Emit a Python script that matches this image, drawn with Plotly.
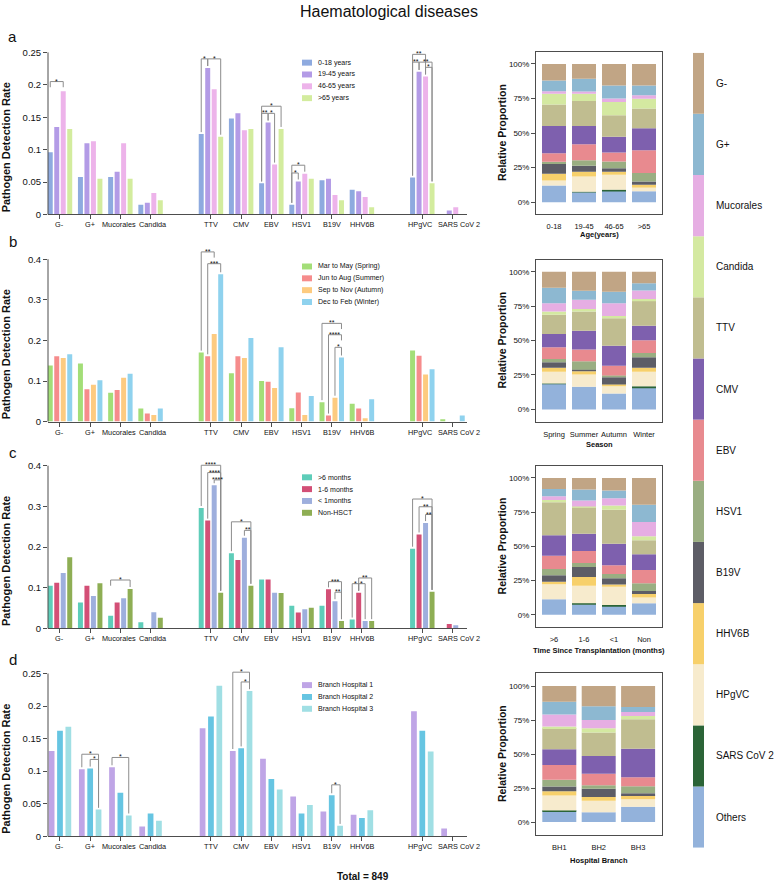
import plotly.graph_objects as go

W, H = 778, 888
FONT = "Liberation Sans, Arial, Helvetica, sans-serif"

# ---------------------------------------------------------------- data
categories = ["G-", "G+", "Mucorales", "Candida", "TTV", "CMV", "EBV", "HSV1",
              "B19V", "HHV6B", "HPgVC", "SARS CoV 2"]

# panel a : age
age_names = ["0-18 years", "19-45 years", "46-65 years", ">65 years"]
age_0_18 = [0.096, 0.058, 0.058, 0.015, 0.124, 0.148, 0.048, 0.015, 0.053, 0.038, 0.057, 0.000]
age_19_45 = [0.135, 0.110, 0.066, 0.018, 0.226, 0.156, 0.142, 0.051, 0.055, 0.036, 0.220, 0.006]
age_46_65 = [0.190, 0.113, 0.110, 0.033, 0.193, 0.130, 0.077, 0.063, 0.030, 0.027, 0.213, 0.011]
age_over65 = [0.132, 0.055, 0.055, 0.022, 0.120, 0.132, 0.132, 0.055, 0.022, 0.011, 0.048, 0.000]

# panel b : season
season_names = ["Mar to May (Spring)", "Jun to Aug (Summer)", "Sep to Nov (Autumn)", "Dec to Feb (Winter)"]
season_spring = [0.138, 0.143, 0.071, 0.032, 0.170, 0.119, 0.100, 0.033, 0.048, 0.044, 0.175, 0.006]
season_summer = [0.161, 0.080, 0.078, 0.020, 0.161, 0.161, 0.098, 0.072, 0.015, 0.032, 0.162, 0.000]
season_autumn = [0.157, 0.091, 0.108, 0.016, 0.216, 0.157, 0.083, 0.016, 0.059, 0.008, 0.116, 0.000]
season_winter = [0.166, 0.102, 0.118, 0.032, 0.363, 0.206, 0.183, 0.063, 0.158, 0.055, 0.129, 0.015]

# panel c : time since transplantation
hsct_names = [">6 months", "1-6 months", "< 1months", "Non-HSCT"]
hsct_gt6 = [0.105, 0.064, 0.031, 0.015, 0.296, 0.185, 0.120, 0.056, 0.056, 0.022, 0.196, 0.000]
hsct_1_6 = [0.112, 0.105, 0.064, 0.000, 0.265, 0.168, 0.120, 0.039, 0.096, 0.088, 0.231, 0.011]
hsct_lt1 = [0.136, 0.080, 0.074, 0.040, 0.352, 0.223, 0.088, 0.047, 0.067, 0.018, 0.259, 0.008]
hsct_non = [0.175, 0.111, 0.097, 0.026, 0.088, 0.105, 0.087, 0.051, 0.018, 0.018, 0.090, 0.000]

# panel d : hospital branch
branch_names = ["Branch Hospital 1", "Branch Hospital 2", "Branch Hospital 3"]
branch_1 = [0.131, 0.103, 0.106, 0.015, 0.166, 0.131, 0.119, 0.061, 0.038, 0.033, 0.192, 0.012]
branch_2 = [0.162, 0.104, 0.067, 0.035, 0.184, 0.135, 0.088, 0.035, 0.063, 0.028, 0.162, 0.000]
branch_3 = [0.168, 0.041, 0.032, 0.024, 0.231, 0.223, 0.072, 0.048, 0.016, 0.040, 0.130, 0.000]

# significance brackets: (category, bar i, bar j, level, label, left leg, right leg)
# leg "L" = down to the bar top, "S" = short tick
brackets_a = [
    ("G-", 0, 2, 0.205, "*", "S", "S"),
    ("TTV", 0, 1, 0.240, "*", "L", "L"),
    ("TTV", 1, 3, 0.240, "*", "L", "L"),
    ("EBV", 0, 3, 0.167, "*", "L", "L"),
    ("EBV", 0, 1, 0.156, "**", "L", "L"),
    ("EBV", 1, 2, 0.156, "*", "L", "L"),
    ("HSV1", 0, 2, 0.076, "*", "L", "L"),
    ("HSV1", 0, 1, 0.064, "*", "L", "L"),
    ("HPgVC", 0, 2, 0.247, "**", "L", "L"),
    ("HPgVC", 0, 1, 0.235, "**", "L", "L"),
    ("HPgVC", 1, 3, 0.235, "**", "L", "L"),
    ("HPgVC", 2, 3, 0.227, "*", "L", "L"),
]
brackets_b = [
    ("TTV", 0, 2, 0.418, "**", "L", "S"),
    ("TTV", 1, 3, 0.389, "***", "L", "L"),
    ("B19V", 0, 3, 0.242, "**", "L", "S"),
    ("B19V", 1, 3, 0.214, "****", "L", "S"),
    ("B19V", 2, 3, 0.183, "*", "L", "L"),
]
brackets_c = [
    ("Mucorales", 0, 3, 0.119, "*", "S", "L"),
    ("TTV", 0, 3, 0.401, "****", "L", "L"),
    ("TTV", 1, 3, 0.383, "****", "L", "L"),
    ("TTV", 2, 3, 0.365, "****", "L", "L"),
    ("CMV", 0, 3, 0.262, "*", "L", "L"),
    ("CMV", 2, 3, 0.241, "**", "L", "L"),
    ("B19V", 1, 3, 0.115, "***", "L", "L"),
    ("B19V", 2, 3, 0.089, "**", "L", "L"),
    ("HHV6B", 0, 1, 0.110, "*", "L", "L"),
    ("HHV6B", 1, 2, 0.110, "*", "L", "L"),
    ("HHV6B", 1, 3, 0.124, "**", "L", "L"),
    ("HPgVC", 0, 3, 0.318, "*", "L", "L"),
    ("HPgVC", 1, 3, 0.299, "**", "L", "L"),
    ("HPgVC", 2, 3, 0.280, "**", "L", "L"),
]
brackets_d = [
    ("G+", 0, 2, 0.126, "*", "L", "L"),
    ("G+", 1, 2, 0.118, "*", "L", "L"),
    ("Mucorales", 0, 2, 0.121, "*", "L", "L"),
    ("CMV", 0, 2, 0.252, "*", "L", "L"),
    ("CMV", 1, 2, 0.237, "*", "L", "L"),
    ("B19V", 1, 2, 0.079, "*", "L", "L"),
]

# relative proportions (%), order = pathogens (top of stack first)
pathogens = ["G-", "G+", "Mucorales", "Candida", "TTV", "CMV", "EBV", "HSV1",
             "B19V", "HHV6B", "HPgVC", "SARS CoV 2", "Others"]

age_labels = ["0-18", "19-45", "46-65", ">65"]
prop_0_18 = [12.0, 7.7, 1.9, 7.7, 15.6, 19.7, 6.2, 1.7, 7.0, 5.0, 3.6, 0.0, 12.0]
prop_19_45 = [10.8, 9.1, 1.7, 5.3, 18.0, 13.2, 11.5, 4.1, 4.3, 3.4, 11.0, 0.4, 7.2]
prop_46_65 = [15.6, 9.4, 2.6, 9.6, 15.6, 11.3, 6.5, 5.0, 2.4, 2.2, 11.0, 0.5, 8.4]
prop_over65 = [15.6, 7.0, 2.6, 7.0, 14.4, 15.8, 16.5, 6.2, 2.4, 1.2, 3.4, 0.0, 7.9]

season_labels = ["Spring", "Summer", "Autumn", "Winter"]
prop_spring = [11.6, 11.3, 6.0, 2.4, 14.0, 9.6, 8.4, 2.4, 4.1, 2.9, 8.4, 0.3, 18.6]
prop_summer = [13.7, 6.7, 6.7, 1.7, 14.0, 13.7, 8.4, 6.3, 1.0, 2.4, 8.9, 0.0, 16.4]
prop_autumn = [14.5, 8.4, 9.2, 1.7, 20.0, 14.5, 7.2, 1.2, 5.3, 1.2, 5.3, 0.0, 11.6]
prop_winter = [8.4, 5.3, 6.0, 1.4, 18.1, 10.6, 9.2, 3.1, 7.7, 2.9, 10.4, 1.2, 15.7]

hsct_labels = [">6", "1-6", "<1", "Non"]
prop_gt6 = [8.0, 5.3, 2.7, 1.7, 24.2, 15.0, 9.7, 4.4, 4.8, 1.9, 10.9, 0.0, 11.4]
prop_1_6 = [8.5, 8.0, 4.4, 0.5, 19.4, 12.6, 8.7, 2.9, 7.3, 6.5, 12.8, 0.7, 7.7]
prop_lt1 = [9.2, 5.6, 5.3, 3.1, 24.7, 15.7, 6.5, 3.1, 4.4, 1.7, 13.3, 0.7, 6.5]
prop_non = [19.6, 12.6, 10.4, 2.9, 10.2, 11.6, 9.7, 5.6, 2.2, 2.7, 4.1, 0.0, 8.5]

branch_labels = ["BH1", "BH2", "BH3"]
prop_bh1 = [11.5, 9.3, 9.0, 1.2, 15.4, 11.7, 10.7, 5.1, 3.4, 3.2, 11.0, 0.7, 7.8]
prop_bh2 = [14.9, 10.1, 6.0, 3.1, 17.3, 13.2, 8.4, 2.6, 6.0, 2.9, 8.4, 0.0, 7.2]
prop_bh3 = [15.3, 3.8, 2.9, 2.4, 21.6, 21.1, 6.5, 5.3, 1.2, 3.1, 5.5, 0.0, 11.3]

total_n = 849

# ---------------------------------------------------------------- styles
age_colors = ["#8EAADF", "#B39BE6", "#EDB3EA", "#D3EC9E"]
season_colors = ["#A3DE78", "#F68C8C", "#FDCB80", "#8FD2EE"]
hsct_colors = ["#5ECDB9", "#D34F76", "#9EAFDD", "#8EAE54"]
branch_colors = ["#BFA5E6", "#66C5E2", "#A0DFE4"]
pathogen_colors = ["#C1A585", "#8DB8D1", "#E6AEE3", "#D4E9A1", "#C0BD90", "#7E60AE",
                   "#E88A8F", "#9AAE82", "#5D5D66", "#F7D06B", "#F7EBCD", "#2B6437", "#93B2DB"]
AX = "#4d4d4d"
BR = "#8c8c8c"
CAT_SHIFT = {"SARS CoV 2": 6, "HPgVC": -2, "Mucorales": -1, "Candida": 2}


def fx(px):
    return px / W


def fy(py):
    return 1 - py / H


def names(k):
    s = "" if k == 1 else str(k)
    return "x" + s, "y" + s, "xaxis" + s, "yaxis" + s


# category positions with a one-slot gap between the three pathogen groups
cat_pos = []
p = 0
for gsize in [4, 6, 2]:
    for _ in range(gsize):
        cat_pos.append(p)
        p += 1
    p += 1

fig = go.Figure()
layout = {}
shapes = []
annotations = []


def txt(x, y, text, size, xanchor="center", yanchor="middle", angle=0, color="#111"):
    annotations.append(dict(x=x, y=y, xref="paper", yref="paper", text=text, showarrow=False,
                            xanchor=xanchor, yanchor=yanchor, textangle=angle,
                            font=dict(size=size, color=color, family=FONT)))


main_panels = [
    dict(names=age_names, series=[age_0_18, age_19_45, age_46_65, age_over65], colors=age_colors,
         brackets=brackets_a, T=0.25, dt=0.05, zero=215.7, top=52.7, letter="a", letter_y=37, leg_y=63),
    dict(names=season_names, series=[season_spring, season_summer, season_autumn, season_winter],
         colors=season_colors, brackets=brackets_b, T=0.4, dt=0.1, zero=424, top=260.7,
         letter="b", letter_y=243, leg_y=268),
    dict(names=hsct_names, series=[hsct_gt6, hsct_1_6, hsct_lt1, hsct_non], colors=hsct_colors,
         brackets=brackets_c, T=0.4, dt=0.1, zero=632, top=468.3, letter="c", letter_y=455, leg_y=480),
    dict(names=branch_names, series=[branch_1, branch_2, branch_3], colors=branch_colors,
         brackets=brackets_d, T=0.25, dt=0.05, zero=841, top=677.3, letter="d", letter_y=663, leg_y=689),
]

k = 0
for pnl in main_panels:
    k += 1
    xa, ya, xk, yk = names(k)
    n = len(pnl["series"])
    step, bw = (0.215, 0.165) if n == 4 else (0.277, 0.19)
    first = -(n * step - (step - bw)) / 2
    T = pnl["T"]
    R = T * 1.08
    for i, (vals, nm, col) in enumerate(zip(pnl["series"], pnl["names"], pnl["colors"])):
        fig.add_trace(go.Bar(x=cat_pos, y=vals, name=nm, width=bw, offset=first + i * step,
                             marker=dict(color=col, line=dict(width=0)), xaxis=xa, yaxis=ya,
                             customdata=categories,
                             hovertemplate="%{customdata}<br>" + nm + ": %{y}<extra></extra>"))
    dom_top = pnl["zero"] - (pnl["zero"] - pnl["top"]) * R / T
    nt = int(round(T / pnl["dt"]))
    tv = [round(j * pnl["dt"], 3) for j in range(nt + 1)]
    layout[xk] = dict(domain=[fx(48), fx(467)], range=[-0.397, 13.48], anchor=ya,
                      tickmode="array", tickvals=cat_pos, showticklabels=False,
                      ticks="outside", ticklen=4, tickcolor=AX, tickwidth=1,
                      showline=True, linecolor=AX, linewidth=1, showgrid=False, zeroline=False,
                      fixedrange=True)
    layout[yk] = dict(domain=[fy(pnl["zero"]), fy(dom_top)], range=[0, R], anchor=xa,
                      tickmode="array", tickvals=tv, ticktext=[f"{v:g}" for v in tv],
                      ticks="outside", ticklen=4, tickcolor=AX, tickwidth=1,
                      showline=False, showgrid=False, zeroline=False,
                      tickfont=dict(size=9.5, color="#111"), fixedrange=True)
    # category labels under the ticks
    for cat, cp in zip(categories, cat_pos):
        annotations.append(dict(x=cp, y=0, xref=xa, yref=ya, text=cat, showarrow=False,
                                xanchor="center", yanchor="top", yshift=-5,
                                xshift=CAT_SHIFT.get(cat, 0), borderpad=0,
                                font=dict(size=7.3, color="#111", family=FONT)))
    # y-axis line ending at the top tick
    shapes.append(dict(type="line", xref=xa + " domain", yref=ya + " domain", x0=0, x1=0,
                       y0=0, y1=T / R, line=dict(color=AX, width=1)))
    # significance brackets
    pad, short = 0.012 * T, 0.035 * T
    for (cat, i, j, lev, lab, lm, rm) in pnl["brackets"]:
        ci = categories.index(cat)
        xi = cat_pos[ci] + first + i * step + bw / 2
        xj = cat_pos[ci] + first + j * step + bw / 2
        yi = pnl["series"][i][ci] + pad if lm == "L" else lev - short
        yj = pnl["series"][j][ci] + pad if rm == "L" else lev - short
        shapes.append(dict(type="path", xref=xa, yref=ya,
                           path=f"M{xi},{yi} L{xi},{lev} L{xj},{lev} L{xj},{yj}",
                           line=dict(color=BR, width=1)))
        annotations.append(dict(x=(xi + xj) / 2, y=lev, xref=xa, yref=ya, text=lab, showarrow=False,
                                yanchor="bottom", yshift=-4, borderpad=0,
                                font=dict(size=7, color="#111", family=FONT)))
    # legend (manual, compact)
    for i, (nm, col) in enumerate(zip(pnl["names"], pnl["colors"])):
        yc = pnl["leg_y"] + i * 11.9
        shapes.append(dict(type="rect", xref="paper", yref="paper", x0=fx(302), x1=fx(312),
                           y0=fy(yc + 3), y1=fy(yc - 3), fillcolor=col, line=dict(width=0)))
        txt(fx(316), fy(yc), nm, 7, xanchor="left")
    # panel letter, y title
    txt(fx(13), fy(pnl["letter_y"]), pnl["letter"], 15)
    txt(fx(6), fy((pnl["zero"] + pnl["top"]) / 2 + 14), "<b>Pathogen Detection Rate</b>", 11, angle=-90)

stacked_panels = [
    dict(labels=age_labels, props=[prop_0_18, prop_19_45, prop_46_65, prop_over65],
         title="Age(years)", box=(52.7, 215), p100=64.3, p0=203.3, title_y=236),
    dict(labels=season_labels, props=[prop_spring, prop_summer, prop_autumn, prop_winter],
         title="Season", box=(261.7, 424), p100=273.3, p0=411.7, title_y=447),
    dict(labels=hsct_labels, props=[prop_gt6, prop_1_6, prop_lt1, prop_non],
         title="Time Since Transplantation (months)", box=(468.3, 631), p100=480.7, p0=618.3, title_y=654),
    dict(labels=branch_labels, props=[prop_bh1, prop_bh2, prop_bh3],
         title="Hospital Branch", box=(676.7, 840), p100=690, p0=826.7, title_y=865),
]

for sp in stacked_panels:
    k += 1
    xa, ya, xk, yk = names(k)
    n = len(sp["labels"])
    c0, spc, bwpx = (554, 30, 24) if n == 4 else (559.3, 39.4, 34)
    xs = list(range(n))
    totals = [sum(g) for g in sp["props"]]
    base = [0.0] * n
    for j in reversed(range(len(pathogens))):
        vals = [sp["props"][g][j] / totals[g] for g in range(n)]
        fig.add_trace(go.Bar(x=xs, y=vals, base=list(base), width=bwpx / spc, name=pathogens[j],
                             marker=dict(color=pathogen_colors[j], line=dict(width=0)),
                             xaxis=xa, yaxis=ya,
                             hovertemplate=pathogens[j] + ": %{y:.1%}<extra></extra>"))
        base = [b + v for b, v in zip(base, vals)]
    top, bot = sp["box"]
    span = sp["p0"] - sp["p100"]
    r0 = -(bot - sp["p0"]) / span
    r1 = 1 + (sp["p100"] - top) / span
    layout[xk] = dict(domain=[fx(536), fx(661.7)], range=[(536 - c0) / spc, (661.7 - c0) / spc],
                      anchor=ya, tickmode="array", tickvals=xs, ticktext=sp["labels"], ticks="",
                      tickangle=0, ticklabelstandoff=5, showline=True, mirror=True, linecolor=AX,
                      linewidth=1, showgrid=False, zeroline=False,
                      tickfont=dict(size=7.5, color="#111"), fixedrange=True)
    layout[yk] = dict(domain=[fy(bot), fy(top)], range=[r0, r1], anchor=xa, tickmode="array",
                      tickvals=[0, 0.25, 0.5, 0.75, 1], ticktext=["0%", "25%", "50%", "75%", "100%"],
                      ticks="outside", ticklen=4, tickcolor=AX, showline=True, mirror=True,
                      linecolor=AX, linewidth=1, showgrid=False, zeroline=False,
                      tickfont=dict(size=8, color="#111"), fixedrange=True)
    txt(fx(502), fy((sp["p100"] + sp["p0"]) / 2), "<b>Relative Proportion</b>", 10.5, angle=-90)
    txt(fx(599), fy(sp["title_y"]), "<b>" + sp["title"] + "</b>", 7.5)

# colour key strip on the right
k += 1
xa, ya, xk, yk = names(k)
npth = len(pathogens)
for j in reversed(range(npth)):
    fig.add_trace(go.Bar(x=[0], y=[1], base=[npth - 1 - j], width=1, name=pathogens[j],
                         marker=dict(color=pathogen_colors[j], line=dict(width=0)),
                         xaxis=xa, yaxis=ya, hovertemplate=pathogens[j] + "<extra></extra>"))
layout[xk] = dict(domain=[fx(693), fx(704)], range=[-0.5, 0.5], anchor=ya, visible=False,
                  fixedrange=True)
layout[yk] = dict(domain=[fy(852.5), fy(53)], range=[0, npth], anchor=xa, side="right",
                  tickmode="array", tickvals=[npth - 0.5 - j for j in range(npth)], ticktext=pathogens,
                  ticks="", ticklabelstandoff=11, showline=False, showgrid=False, zeroline=False,
                  tickfont=dict(size=10, color="#111"), fixedrange=True)

txt(fx(389), fy(12), "Haematological diseases", 16)
txt(fx(363), fy(881), f"<b>Total = {total_n}</b>", 10)

fig.update_layout(width=W, height=H, margin=dict(l=0, r=0, t=0, b=0), paper_bgcolor="white",
                  plot_bgcolor="rgba(0,0,0,0)", barmode="overlay", showlegend=False,
                  font=dict(family=FONT, color="#111"), shapes=shapes, annotations=annotations,
                  **layout)

fig.write_html("out.html", config={"displayModeBar": False},
               post_script="document.body.style.margin='0px';document.body.style.overflow='hidden';")
